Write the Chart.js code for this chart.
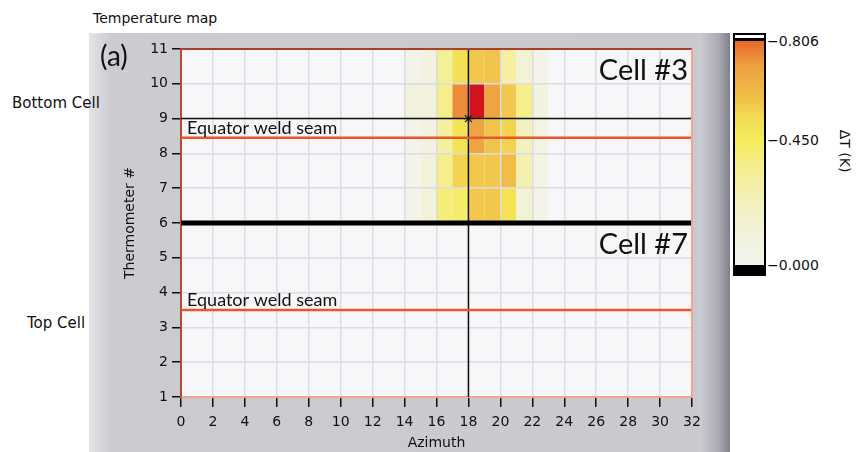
<!DOCTYPE html>
<html>
<head>
<meta charset="utf-8">
<script src="https://cdn.jsdelivr.net/npm/chart.js@4.4.0/dist/chart.umd.min.js"></script>
<style>
    body { margin: 0; width: 858px; height: 452px; background: #fff; position: relative; overflow: hidden; font-family: "DejaVu Sans", sans-serif; color: #111; }
    #panel { position: absolute; left: 89px; top: 33px; width: 641px; height: 419px;
        background: linear-gradient(to right, #e3e3e8 0px, #cbcbd2 22px, #c9c9d0 612px, #a9a9b2 630px, #80808a 641px); }
    #wrap { position: absolute; left: 0; top: 0; width: 858px; height: 452px; }
    .lbl { position: absolute; white-space: nowrap; line-height: 1; }
    #cbar { position: absolute; left: 733px; top: 33px; width: 29px; height: 239px; border: 2px solid #000; background: #fff; }
    #cbarTop { position: absolute; left: 0; top: 3px; width: 29px; height: 3px; background: #000; }
    #cbarGrad { position: absolute; left: 0; top: 6px; width: 29px; height: 224px; }
    #cbarBottom { position: absolute; left: 0; top: 230px; width: 29px; height: 9px; background: #000; }
</style>
</head>
<body>
<div id="panel"></div>
<div class="lbl" style="left:93px; top:11px; font-size:14px;">Temperature map</div>
<div class="lbl" style="left:12px; top:96px; font-size:15px;">Bottom Cell</div>
<div class="lbl" style="left:27px; top:316px; font-size:15px;">Top Cell</div>
<div id="cbar"><div id="cbarTop"></div><div id="cbarGrad"></div><div id="cbarBottom"></div></div>
<div id="cbarLabels"></div>
<div class="lbl" style="left:824px; top:144px; font-size:14px; transform: rotate(90deg);">ΔT (K)</div>
<div id="wrap"><canvas id="mapChart" width="858" height="452"></canvas></div>

<script>
// Lưới nhiệt độ: cột theo góc phương vị, hàng theo nhiệt kế
const azimuthCols = [14, 15, 16, 17, 18, 19, 20, 21, 22];
const thermoRows = [10, 9, 8, 7, 6];   // cạnh dưới của mỗi hàng

const dT_row10 = [-0.03, -0.10, -0.33, -0.51, -0.58, -0.59, -0.30, -0.13, -0.05];
const dT_row9  = [-0.11, -0.11, -0.36, -0.75, -0.95, -0.70, -0.58, -0.36, -0.08];
const dT_row8  = [-0.03, -0.09, -0.30, -0.50, -0.70, -0.59, -0.55, -0.21, -0.06];
const dT_row7  = [-0.02, -0.12, -0.36, -0.55, -0.58, -0.58, -0.61, -0.26, -0.06];
const dT_row6  = [-0.02, -0.12, -0.39, -0.42, -0.58, -0.58, -0.50, -0.13, -0.05];
const deltaT = [dT_row10, dT_row9, dT_row8, dT_row7, dT_row6];

const xTicks = [0, 32, 2];       // min, max, bước
const yTicks = [1, 11, 1];
const weldSeams = [8.45, 3.5];
const cellDivider = 6;
const probeAzimuth = 18;
const probeThermometer = 9;

const dTmax = 0.806;
const colorbarValues = [-0.806, -0.450, -0.000];
const colorbarLabels = ['−0.806', '−0.450', '−0.000'];

// Bảng màu
const cmapStops = [
    [0.00, [243, 243, 240]],
    [0.12, [242, 242, 218]],
    [0.24, [243, 240, 184]],
    [0.36, [245, 238, 138]],
    [0.45, [245, 235, 90]],
    [0.53, [243, 220, 85]],
    [0.60, [240, 192, 72]],
    [0.72, [237, 160, 64]],
    [0.806, [232, 104, 42]]
];

function colorFor(v) {
    const m = Math.abs(v);
    if (m > dTmax) return '#d2141f';
    for (let i = 1; i < cmapStops.length; i++) {
        const [p1, c1] = cmapStops[i];
        const [p0, c0] = cmapStops[i - 1];
        if (m <= p1) {
            const t = (m - p0) / (p1 - p0);
            const c = c0.map((c, k) => Math.round(c + (c1[k] - c) * t));
            return 'rgb(' + c.join(',') + ')';
        }
    }
    return 'rgb(232,104,42)';
}

// Thanh màu
const grad = cmapStops.slice().reverse().map(s => 'rgb(' + s[1].join(',') + ') ' + ((1 - s[0] / dTmax) * 100).toFixed(1) + '%');
document.getElementById('cbarGrad').style.background = 'linear-gradient(to bottom, ' + grad.join(', ') + ')';
const cbarLabels = document.getElementById('cbarLabels');
colorbarValues.forEach((v, i) => {
    const el = document.createElement('div');
    el.className = 'lbl';
    el.style.fontSize = '14px';
    el.style.left = '767px';
    const yc = 41 + (1 - Math.abs(v) / dTmax) * 224;
    el.style.top = (yc - 7) + 'px';
    el.textContent = colorbarLabels[i];
    cbarLabels.appendChild(el);
});

const heatmapPlugin = {
    id: 'heatmap',
    beforeDraw(chart) {
        const { ctx, chartArea: a, scales: { x, y } } = chart;
        ctx.save();
        ctx.fillStyle = '#f7f7f9';
        ctx.fillRect(a.left, a.top, a.right - a.left, a.bottom - a.top);
        deltaT.forEach((row, i) => {
            row.forEach((v, j) => {
                const x0 = x.getPixelForValue(azimuthCols[j]);
                const x1 = x.getPixelForValue(azimuthCols[j] + 1);
                const y0 = y.getPixelForValue(thermoRows[i] + 1);
                const y1 = y.getPixelForValue(thermoRows[i]);
                ctx.fillStyle = colorFor(v);
                ctx.fillRect(x0, y0, x1 - x0, y1 - y0);
            });
        });
        ctx.restore();
    }
};

const framePlugin = {
    id: 'frame',
    afterDraw(chart) {
        const { ctx, chartArea: a, scales: { x, y } } = chart;
        ctx.save();
        ctx.lineWidth = 2;
        ctx.strokeStyle = '#a8402a';
        ctx.beginPath(); ctx.moveTo(a.left, a.top); ctx.lineTo(a.right, a.top); ctx.stroke();
        ctx.strokeStyle = '#f2a58c';
        ctx.beginPath(); ctx.moveTo(a.right, a.top); ctx.lineTo(a.right, a.bottom); ctx.stroke();

        ctx.fillStyle = '#111';
        ctx.textBaseline = 'alphabetic';
        ctx.font = '18px Lato';
        ctx.textAlign = 'left';
        weldSeams.forEach(s => {
            ctx.fillText('Equator weld seam', a.left + 6, y.getPixelForValue(s) - 4);
        });
        ctx.font = '29px Lato';
        ctx.textAlign = 'right';
        ctx.fillText('Cell #3', a.right - 4, y.getPixelForValue(10.1));
        ctx.fillText('Cell #7', a.right - 4, y.getPixelForValue(5.1));
        ctx.font = '28px Lato';
        ctx.textAlign = 'left';
        ctx.fillText('(a)', 100, 66);
        ctx.restore();
    }
};

const hLine = (yv, color, width) => ({
    data: [{ x: xTicks[0], y: yv }, { x: xTicks[1], y: yv }],
    showLine: true, borderColor: color, borderWidth: width, pointRadius: 0
});

const datasets = [
    hLine(probeThermometer, '#111', 1.5),
    hLine(cellDivider, '#000', 5),
    ...weldSeams.map(s => hLine(s, '#e8572a', 2.5)),
    {
        data: [{ x: probeAzimuth, y: yTicks[0] }, { x: probeAzimuth, y: yTicks[1] }],
        showLine: true, borderColor: '#111', borderWidth: 1.5, pointRadius: 0
    },
    {
        data: [{ x: probeAzimuth, y: probeThermometer }],
        pointStyle: 'star', pointRadius: 5, borderColor: '#222', backgroundColor: '#fff', borderWidth: 1.2
    }
];

const tickFont = { family: 'DejaVu Sans', size: 14 };

new Chart(document.getElementById('mapChart').getContext('2d'), {
    type: 'scatter',
    data: { datasets: datasets },
    options: {
        responsive: false,
        animation: false,
        events: [],
        layout: { padding: { left: 110, right: 166, top: 49, bottom: 0 } },
        plugins: { legend: { display: false }, tooltip: { enabled: false } },
        scales: {
            x: {
                type: 'linear', min: xTicks[0], max: xTicks[1],
                ticks: { stepSize: xTicks[2], color: '#111', font: tickFont, padding: 7, maxRotation: 0 },
                grid: { color: '#dcdce2', lineWidth: 1.5, tickColor: '#111', tickLength: 10, tickWidth: 1.5 },
                border: { color: '#f2a58c', width: 2 },
                title: { display: true, text: 'Azimuth', color: '#111', font: tickFont, padding: { top: 0, bottom: 0 } },
                afterFit(scale) { scale.height = 55; }
            },
            y: {
                type: 'linear', min: yTicks[0], max: yTicks[1],
                ticks: { stepSize: yTicks[2], color: '#111', font: tickFont, padding: 4 },
                grid: { color: '#dcdce2', lineWidth: 1.5, tickColor: '#111', tickLength: 9, tickWidth: 1.5 },
                border: { color: '#b8482a', width: 2 },
                title: { display: true, text: 'Thermometer #', color: '#111', font: tickFont, padding: { top: 12, bottom: 0 } },
                afterFit(scale) { scale.width = 71; }
            }
        }
    },
    plugins: [heatmapPlugin, framePlugin]
});
</script>
</body>
</html>
